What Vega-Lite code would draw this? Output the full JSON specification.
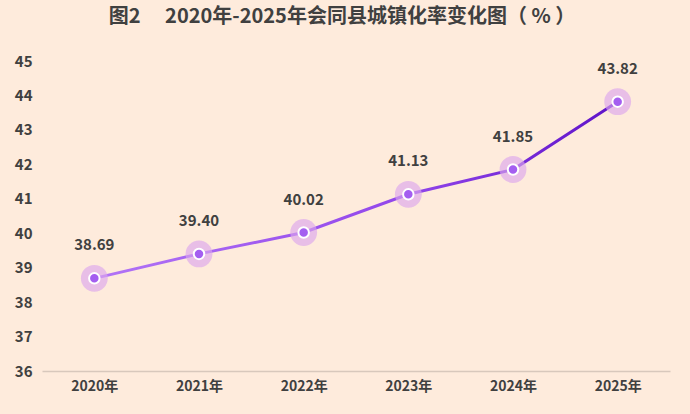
{
  "$schema": "https://vega.github.io/schema/vega-lite/v6.json",
  "width": 628,
  "height": 310,
  "autosize": "none",
  "padding": {"left": 42, "top": 61, "right": 20, "bottom": 43},
  "background": "#feebdc",
  "title": {
    "text": "图2　 2020年-2025年会同县城镇化率变化图（ % ）",
    "font": "Noto Sans CJK SC",
    "fontSize": 20,
    "fontWeight": "bold",
    "color": "#404040",
    "anchor": "middle",
    "offset": 27,
    "dx": -14
  },
  "config": {
    "view": {"stroke": null},
    "axis": {"labelFont": "Noto Sans CJK SC", "labelColor": "#404040", "labelFontWeight": "bold", "grid": false, "ticks": false, "title": null}
  },
  "data": {
    "values": [
      {"year": "2020年", "rate": 38.69},
      {"year": "2021年", "rate": 39.40},
      {"year": "2022年", "rate": 40.02},
      {"year": "2023年", "rate": 41.13},
      {"year": "2024年", "rate": 41.85},
      {"year": "2025年", "rate": 43.82}
    ]
  },
  "encoding": {
    "x": {
      "field": "year",
      "type": "ordinal",
      "scale": {"paddingInner": 0, "paddingOuter": 0.5},
      "axis": {"labelAngle": 0, "labelFontSize": 14, "labelPadding": 8, "domainColor": "#d8c8bc", "domainWidth": 1.5}
    },
    "y": {
      "field": "rate",
      "type": "quantitative",
      "scale": {"domain": [36, 45], "nice": false, "zero": false},
      "axis": {"values": [36, 37, 38, 39, 40, 41, 42, 43, 44, 45], "labelFontSize": 15, "labelPadding": 10, "domain": false}
    }
  },
  "layer": [
    {
      "mark": {
        "type": "line",
        "strokeWidth": 3,
        "color": {
          "gradient": "linear",
          "x1": 0, "y1": 0, "x2": 1, "y2": 0,
          "stops": [
            {"offset": 0, "color": "#b274f6"},
            {"offset": 0.6, "color": "#9145ea"},
            {"offset": 1, "color": "#5e12c8"}
          ]
        }
      }
    },
    {
      "mark": {"type": "circle", "size": 720, "color": "#dba6ec", "opacity": 0.65}
    },
    {
      "mark": {"type": "circle", "size": 110, "color": "#a45ef0", "opacity": 1, "stroke": "white", "strokeWidth": 2}
    },
    {
      "mark": {"type": "text", "dy": -33, "font": "Noto Sans CJK SC", "fontSize": 15, "fontWeight": "bold", "color": "#404040"},
      "encoding": {"text": {"field": "rate", "type": "quantitative", "format": ".2f"}}
    }
  ]
}
